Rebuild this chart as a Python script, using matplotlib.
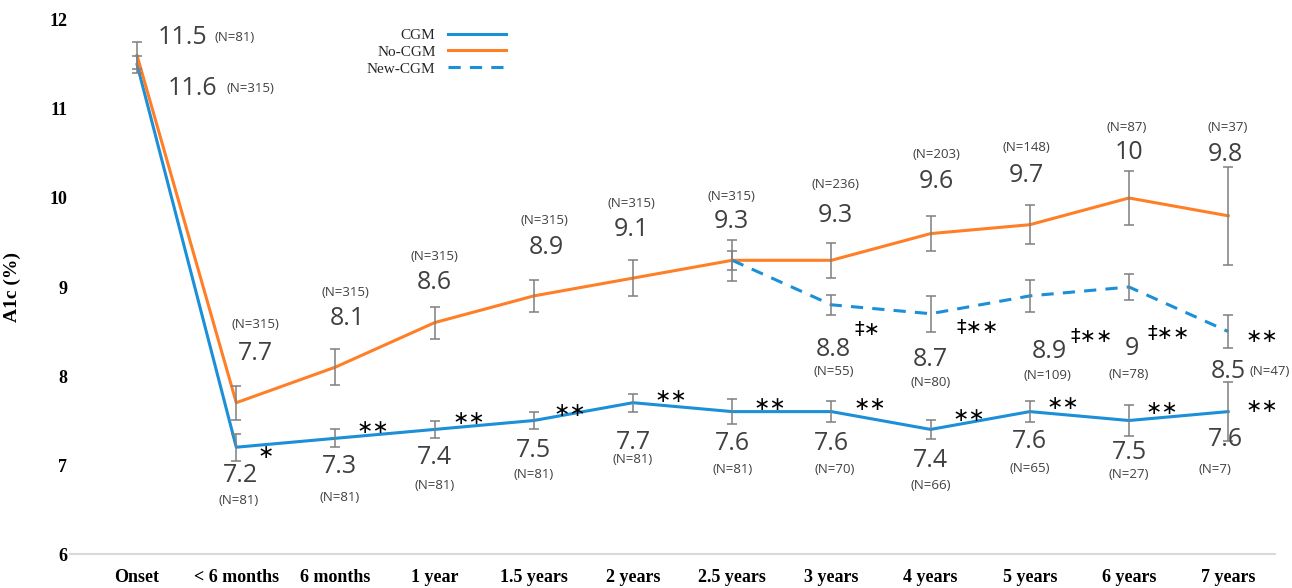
import numpy as np
import matplotlib
matplotlib.use("Agg")
import matplotlib.pyplot as plt

# time points after diagnosis
periods = ["Onset", "< 6 months", "6 months", "1 year", "1.5 years", "2 years",
           "2.5 years", "3 years", "4 years", "5 years", "6 years", "7 years"]

# mean A1c (%) per group
cgm = [11.5, 7.2, 7.3, 7.4, 7.5, 7.7, 7.6, 7.6, 7.4, 7.6, 7.5, 7.6]
no_cgm = [11.6, 7.7, 8.1, 8.6, 8.9, 9.1, 9.3, 9.3, 9.6, 9.7, 10.0, 9.8]
new_cgm = [np.nan] * 6 + [9.3, 8.8, 8.7, 8.9, 9.0, 8.5]

# error bar half widths
cgm_err = [0.1, 0.15, 0.1, 0.1, 0.1, 0.1, 0.14, 0.12, 0.11, 0.12, 0.17, 0.33]
no_cgm_err = [0.15, 0.19, 0.2, 0.18, 0.18, 0.2, 0.23, 0.2, 0.2, 0.22, 0.3, 0.55]
new_cgm_err = [np.nan] * 6 + [0.11, 0.11, 0.2, 0.18, 0.15, 0.18]

# group sizes
cgm_n = [81, 81, 81, 81, 81, 81, 81, 70, 66, 65, 27, 7]
no_cgm_n = [315, 315, 315, 315, 315, 315, 315, 236, 203, 148, 87, 37]
new_cgm_n = [None] * 7 + [55, 80, 109, 78, 47]

# significance marks
cgm_sig = [None, "*", "**", "**", "**", "**", "**", "**", "**", "**", "**", "**"]
new_sig = [None] * 7 + ["‡*", "‡**", "‡**", "‡**", "**"]

# label offsets in pixels: (value dx, value dy, N dx, N dy)
no_cgm_off = [(55, -33, 113, -33), (19, 49, 19, 78), (12, 49, 10, 75), (0, 40, 0, 66),
              (13, 48, 11, 75), (-2, 49, -2, 75), (-1, 39, -1, 64), (4, 45, 4, 76),
              (6, 52, 6, 79), (-3, 49, -3, 77), (0, 45, -2, 70), (-3, 61, 0, 88)]
cgm_off = [(45, 27, 98, 27), (4, -28, 2, -53), (4, -28, 4, -59), (0, -28, 0, -56),
           (0, -30, 0, -54), (0, -40, 0, -57), (0, -32, 0, -58), (0, -32, 3, -58),
           (0, -31, 0, -56), (0, -30, 0, -57), (0, -32, 0, -54), (-3, -28, -13, -58)]
cgm_sig_off = [None, (29, -5), (37, 11), (34, 11), (36, 10), (38, 6), (38, 7), (38, 7),
               (38, 14), (33, 8), (33, 12), (34, 5)]
new_off = [None] * 7 + [(2, -45, 2, -67), (0, -46, 0, -69), (20, -56, 18, -80),
                        (3, -61, 0, -87), (0, -40, 42, -40)]
new_sig_off = [None] * 7 + [(36, -25), (47, -14), (62, -41), (40, -46), (34, -5)]

blue = "#1B8FD8"
orange = "#FF7F27"
grey_txt = "#404040"
label_font = ["Open Sans", "DejaVu Sans"]
serif = "Liberation Serif"

x = np.arange(len(periods))

fig = plt.figure(figsize=(12.92, 5.88), dpi=100)
ax = fig.add_axes([0.0542, 0.0578, 0.9328, 0.9082])

ax.plot(x, cgm, color=blue, lw=2.2, label="CGM", zorder=3)
ax.plot(x, no_cgm, color=orange, lw=2.2, label="No-CGM", zorder=3)
ax.plot(x, new_cgm, color=blue, lw=2.2, ls=(0, (4, 3)), label="New-CGM", zorder=3)

for vals, errs in [(cgm, cgm_err), (no_cgm, no_cgm_err), (new_cgm, new_cgm_err)]:
    ax.errorbar(x, vals, yerr=errs, fmt="none", ecolor="#7f7f7f", elinewidth=1.1,
                capsize=3.5, capthick=1.1, zorder=4)


def put_labels(vals, ns, offs):
    for i, (v, n, off) in enumerate(zip(vals, ns, offs)):
        if off is None or n is None:
            continue
        vdx, vdy, ndx, ndy = off
        ax.annotate(f"{v:g}", (x[i], v), xytext=(vdx, vdy), textcoords="offset pixels",
                    ha="center", va="center", fontsize=18, color=grey_txt,
                    family=label_font, zorder=5)
        ax.annotate(f"(N={n})", (x[i], v), xytext=(ndx, ndy), textcoords="offset pixels",
                    ha="center", va="center", fontsize=9.5, color=grey_txt,
                    family=label_font, zorder=5)


def put_sig(vals, marks, offs):
    for i, (v, m, off) in enumerate(zip(vals, marks, offs)):
        if m is None:
            continue
        ax.annotate(m.replace("*", "\u2217"), (x[i], v), xytext=off,
                    textcoords="offset pixels", ha="center", va="center",
                    fontsize=14, color="black", family=["DejaVu Sans"], zorder=5)


put_labels(no_cgm, no_cgm_n, no_cgm_off)
put_labels(cgm, cgm_n, cgm_off)
put_labels(new_cgm, new_cgm_n, new_off)
put_sig(cgm, cgm_sig, cgm_sig_off)
put_sig(new_cgm, new_sig, new_sig_off)

ax.set_xlim(-0.676, 11.474)
ax.set_ylim(6, 12)
ax.set_yticks(range(6, 13))
ax.set_xticks(x)
ax.set_xticklabels(periods)
for lab in ax.get_xticklabels() + ax.get_yticklabels():
    lab.set_fontfamily(serif)
    lab.set_fontweight("bold")
    lab.set_fontsize(13)
ax.tick_params(axis="both", length=0)
ax.tick_params(axis="x", pad=11)
ax.tick_params(axis="y", pad=2)

for s in ["top", "right", "left"]:
    ax.spines[s].set_visible(False)
ax.spines["bottom"].set_color("#d9d9d9")
ax.spines["bottom"].set_linewidth(1.5)

ax.set_ylabel("A1c (%)", family=serif, fontweight="bold", fontsize=14, labelpad=20)

leg = ax.legend(loc="upper left", bbox_to_anchor=(0.235, 1.01), frameon=False,
                markerfirst=False, handlelength=3.8, handletextpad=0.8,
                labelspacing=0.2, prop={"family": serif, "size": 11})
for t in leg.get_texts():
    t.set_color("#262626")

fig.savefig("out.png", dpi=100)
